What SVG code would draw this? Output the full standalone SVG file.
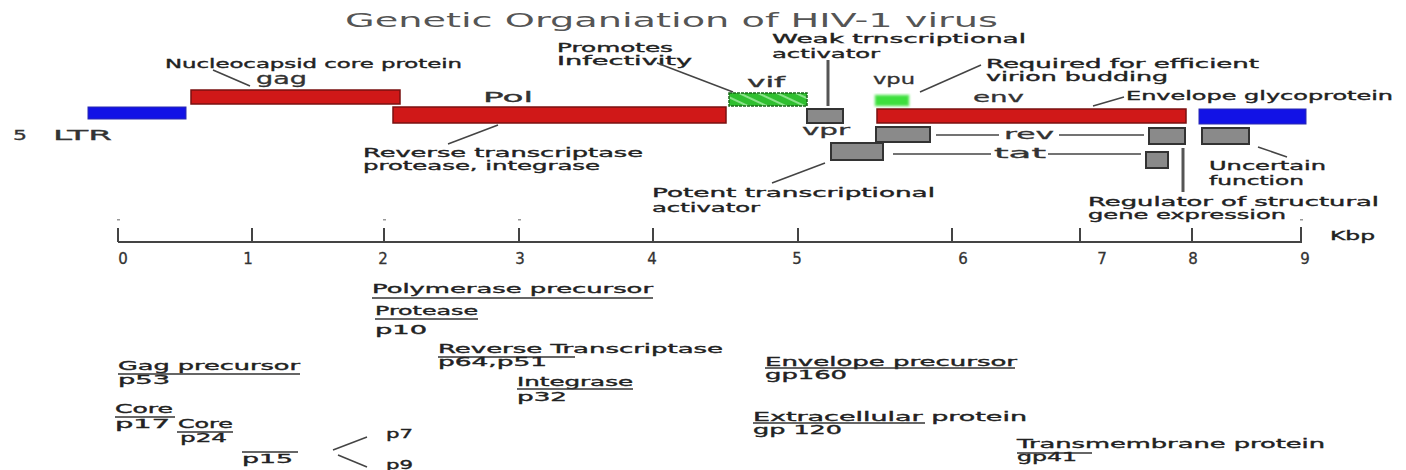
<svg xmlns="http://www.w3.org/2000/svg" width="1406" height="470" viewBox="0 0 1406 470">
<defs>
<style>
text{font-family:"DejaVu Sans","Liberation Sans",Arial,sans-serif;fill:#2a2a2a}
.t{font-size:20px;fill:#555}
.s{font-size:12px;fill:#222;stroke:#222;stroke-width:0.35}
.m{font-size:14px;fill:#333;stroke:#333;stroke-width:0.3}
.d{font-size:15px;fill:#333;stroke:#333;stroke-width:0.3}
.red{fill:#d01818;stroke:#7a1010;stroke-width:1.5}
.blue{fill:#1212e6;stroke:#2a2ab0;stroke-width:1}
.gray{fill:#8a8a8a;stroke:#333;stroke-width:2}
.ln{stroke:#444;stroke-width:1.5;fill:none}
.thick{stroke:#555;stroke-width:3;fill:none}
.ul{stroke:#333;stroke-width:1.3;fill:none}
.ax{stroke:#444;stroke-width:2;fill:none}
</style>
<pattern id="hatch" width="8" height="8" patternUnits="userSpaceOnUse" patternTransform="rotate(25)">
<rect width="8" height="8" fill="#2fbf2f"/>
<line x1="0" y1="4" x2="8" y2="4" stroke="#a8f0a8" stroke-width="1.5"/>
</pattern>
<filter id="blur"><feGaussianBlur stdDeviation="0.8"/></filter>
</defs>
<rect width="1406" height="470" fill="#fff"/>
<text class="t" x="345" y="27" textLength="653" lengthAdjust="spacingAndGlyphs">Genetic Organiation of HIV-1 virus</text>

<g id="ltr5"><rect class="blue" x="88" y="107" width="98" height="12"/><text class="m" y="140"><tspan x="13" textLength="14" lengthAdjust="spacingAndGlyphs">5</tspan><tspan x="53" textLength="59" lengthAdjust="spacingAndGlyphs">LTR</tspan></text></g>
<g id="gag"><rect class="red" x="191" y="90" width="209" height="14"/><text class="m" style="font-size:15px" x="256" y="84" textLength="51" lengthAdjust="spacingAndGlyphs">gag</text></g>
<g id="pol"><rect class="red" x="393" y="107" width="333" height="16"/><text class="m" x="483" y="102" textLength="50" lengthAdjust="spacingAndGlyphs">Pol</text></g>
<g id="vif"><rect x="729" y="93" width="78" height="13" fill="url(#hatch)" stroke="#1a6a1a" stroke-width="1.5" stroke-dasharray="3 1"/><text class="m" x="747" y="87" textLength="38" lengthAdjust="spacingAndGlyphs">vif</text></g>
<g id="vpr"><rect class="gray" x="807" y="109" width="36" height="14"/><text class="m" x="802" y="135" textLength="48" lengthAdjust="spacingAndGlyphs">vpr</text></g>
<g id="vpu"><rect x="875" y="95" width="34" height="11" fill="#3ee03e" stroke="#8ef08e" stroke-width="1" filter="url(#blur)"/><text class="m" x="873" y="84" textLength="42" lengthAdjust="spacingAndGlyphs">vpu</text></g>
<g id="env"><rect class="red" x="877" y="109" width="309" height="14"/><text class="m" x="973" y="102" textLength="51" lengthAdjust="spacingAndGlyphs">env</text></g>
<g id="ltr3"><rect class="blue" x="1199" y="109" width="107" height="15"/></g>
<g id="rev"><rect class="gray" x="876" y="127" width="54" height="15"/><rect class="gray" x="1149" y="128" width="36" height="16"/><text class="m" x="1004" y="139" textLength="50" lengthAdjust="spacingAndGlyphs">rev</text></g>
<g id="tat"><rect class="gray" x="831" y="143" width="52" height="17"/><rect class="gray" x="1146" y="152" width="22" height="16"/><text class="m" x="994" y="158" textLength="52" lengthAdjust="spacingAndGlyphs">tat</text></g>
<g id="unknown"><rect class="gray" x="1202" y="128" width="47" height="16"/></g>

<g id="labels">
<text class="s" x="165" y="68" textLength="297" lengthAdjust="spacingAndGlyphs">Nucleocapsid core protein</text>
<text class="s" x="557" y="52" textLength="116" lengthAdjust="spacingAndGlyphs">Promotes</text>
<text class="s" x="557" y="65" textLength="135" lengthAdjust="spacingAndGlyphs">Infectivity</text>
<text class="s" x="772" y="43" textLength="254" lengthAdjust="spacingAndGlyphs">Weak trnscriptional</text>
<text class="s" x="772" y="58" textLength="108" lengthAdjust="spacingAndGlyphs">activator</text>
<text class="s" x="986" y="68" textLength="273" lengthAdjust="spacingAndGlyphs">Required for efficient</text>
<text class="s" x="986" y="81" textLength="182" lengthAdjust="spacingAndGlyphs">virion budding</text>
<text class="s" x="1126" y="100" textLength="267" lengthAdjust="spacingAndGlyphs">Envelope glycoprotein</text>
<text class="s" x="363" y="157" textLength="280" lengthAdjust="spacingAndGlyphs">Reverse transcriptase</text>
<text class="s" x="363" y="170" textLength="237" lengthAdjust="spacingAndGlyphs">protease, integrase</text>
<text class="s" x="1209" y="170" textLength="117" lengthAdjust="spacingAndGlyphs">Uncertain</text>
<text class="s" x="1209" y="185" textLength="95" lengthAdjust="spacingAndGlyphs">function</text>
<text class="s" x="652" y="197" textLength="283" lengthAdjust="spacingAndGlyphs">Potent transcriptional</text>
<text class="s" x="652" y="212" textLength="108" lengthAdjust="spacingAndGlyphs">activator</text>
<text class="s" x="1088" y="206" textLength="291" lengthAdjust="spacingAndGlyphs">Regulator of structural</text>
<text class="s" x="1088" y="219" textLength="198" lengthAdjust="spacingAndGlyphs">gene expression</text>
</g>

<g id="connectors">
<line class="ln" x1="213" y1="70" x2="250" y2="86"/>
<line class="ln" x1="657" y1="63" x2="733" y2="92"/>
<line class="thick" x1="828" y1="60" x2="828" y2="106"/>
<line class="ln" x1="920" y1="92" x2="981" y2="65"/>
<line class="ln" x1="1093" y1="106" x2="1124" y2="97"/>
<line class="ln" x1="448" y1="144" x2="498" y2="125"/>
<line class="ln" x1="772" y1="183" x2="825" y2="163"/>
<line class="ln" x1="936" y1="135" x2="999" y2="135"/>
<line class="ln" x1="1059" y1="135" x2="1144" y2="135"/>
<line class="ln" x1="893" y1="154" x2="991" y2="154"/>
<line class="ln" x1="1048" y1="154" x2="1141" y2="154"/>
<line class="thick" x1="1183" y1="148" x2="1183" y2="192"/>
<line class="ln" x1="1258" y1="147" x2="1287" y2="157"/>
<line class="ln" x1="333" y1="450" x2="367" y2="437"/>
<line class="ln" x1="338" y1="455" x2="367" y2="467"/>
</g>

<g id="axis">
<line class="ax" x1="118" y1="242" x2="1302" y2="242"/>
<g class="ax">
<line x1="118" y1="228" x2="118" y2="242"/><line x1="252" y1="228" x2="252" y2="242"/><line x1="384" y1="228" x2="384" y2="242"/><line x1="519" y1="228" x2="519" y2="242"/><line x1="653" y1="228" x2="653" y2="242"/><line x1="798" y1="228" x2="798" y2="242"/><line x1="952" y1="228" x2="952" y2="242"/><line x1="1080" y1="228" x2="1080" y2="242"/><line x1="1192" y1="228" x2="1192" y2="242"/><line x1="1301" y1="227" x2="1301" y2="242"/>
</g>
<g fill="#999"><rect x="117" y="219" width="3" height="1.5"/><rect x="383" y="219" width="3" height="1.5"/><rect x="518" y="219" width="3" height="1.5"/><rect x="1300" y="219" width="3" height="1.5"/></g>
<g text-anchor="middle">
<text class="d" x="123" y="264">0</text><text class="d" x="248" y="264">1</text><text class="d" x="383" y="264">2</text><text class="d" x="520" y="264">3</text><text class="d" x="652" y="264">4</text><text class="d" x="797" y="264">5</text><text class="d" x="963" y="264">6</text><text class="d" x="1102" y="264">7</text><text class="d" x="1193" y="264">8</text><text class="d" x="1305" y="264">9</text>
</g>
<text class="s" x="1330" y="240" textLength="45" lengthAdjust="spacingAndGlyphs">Kbp</text>
</g>

<g id="products">
<text class="s" x="372" y="293" textLength="281" lengthAdjust="spacingAndGlyphs">Polymerase precursor</text>
<line class="ul" x1="372" y1="298" x2="653" y2="298"/>
<text class="s" x="375" y="315" textLength="103" lengthAdjust="spacingAndGlyphs">Protease</text>
<line class="ul" x1="375" y1="319" x2="478" y2="319"/>
<text class="s" x="375" y="334" textLength="52" lengthAdjust="spacingAndGlyphs">p10</text>
<text class="s" x="438" y="353" textLength="285" lengthAdjust="spacingAndGlyphs">Reverse Transcriptase</text>
<line class="ul" x1="438" y1="357" x2="575" y2="357"/>
<text class="s" x="438" y="366" textLength="109" lengthAdjust="spacingAndGlyphs">p64,p51</text>
<text class="s" x="517" y="386" textLength="116" lengthAdjust="spacingAndGlyphs">Integrase</text>
<line class="ul" x1="517" y1="389" x2="633" y2="389"/>
<text class="s" x="517" y="401" textLength="50" lengthAdjust="spacingAndGlyphs">p32</text>
<text class="s" x="118" y="370" textLength="182" lengthAdjust="spacingAndGlyphs">Gag precursor</text>
<line class="ul" x1="118" y1="374" x2="300" y2="374"/>
<text class="s" x="118" y="384" textLength="52" lengthAdjust="spacingAndGlyphs">p53</text>
<text class="s" x="115" y="413" textLength="58" lengthAdjust="spacingAndGlyphs">Core</text>
<line class="ul" x1="115" y1="417" x2="175" y2="417"/>
<text class="s" x="115" y="428" textLength="55" lengthAdjust="spacingAndGlyphs">p17</text>
<text class="s" x="178" y="428" textLength="55" lengthAdjust="spacingAndGlyphs">Core</text>
<line class="ul" x1="177" y1="432" x2="233" y2="432"/>
<text class="s" x="180" y="442" textLength="47" lengthAdjust="spacingAndGlyphs">p24</text>
<line class="ul" x1="242" y1="452" x2="298" y2="452"/>
<text class="s" x="242" y="463" textLength="51" lengthAdjust="spacingAndGlyphs">p15</text>
<text class="s" x="386" y="438" textLength="27" lengthAdjust="spacingAndGlyphs">p7</text>
<text class="s" x="386" y="469" textLength="27" lengthAdjust="spacingAndGlyphs">p9</text>
<text class="s" x="765" y="366" textLength="252" lengthAdjust="spacingAndGlyphs">Envelope precursor</text>
<line class="ul" x1="765" y1="368" x2="1015" y2="368"/>
<text class="s" x="765" y="379" textLength="82" lengthAdjust="spacingAndGlyphs">gp160</text>
<text class="s" x="753" y="421" textLength="274" lengthAdjust="spacingAndGlyphs">Extracellular protein</text>
<line class="ul" x1="753" y1="423" x2="925" y2="423"/>
<text class="s" x="753" y="434" textLength="89" lengthAdjust="spacingAndGlyphs">gp 120</text>
<text class="s" x="1017" y="448" textLength="308" lengthAdjust="spacingAndGlyphs">Transmembrane protein</text>
<line class="ul" x1="1017" y1="453" x2="1092" y2="453"/>
<text class="s" x="1017" y="461" textLength="60" lengthAdjust="spacingAndGlyphs">gp41</text>
</g>
</svg>
